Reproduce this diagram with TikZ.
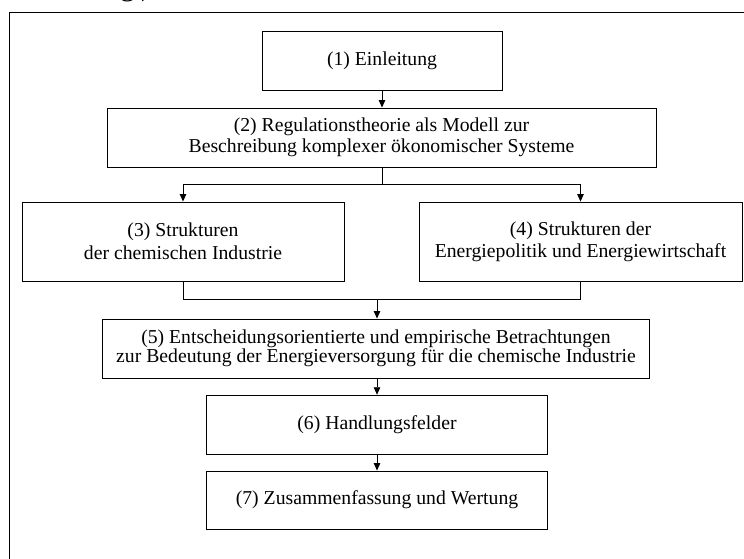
\documentclass[tikz,border=0pt]{standalone}
\usepackage{fontspec}
\setmainfont{Liberation Serif}
\usetikzlibrary{arrows.meta}
\begin{document}
\begin{tikzpicture}[x=1pt,y=1pt,
  box/.style={draw=black, line width=0.9pt, inner sep=0pt, align=center,
    font=\fontsize{19.7}{21}\selectfont},
  link/.style={line width=0.9pt},
  arr/.style={link, -{Triangle[width=6.5pt,length=7.5pt]}},
  frame/.style={line width=1.1pt}]
\useasboundingbox (0,0) rectangle (744,-558);
\clip (0,0) rectangle (744,-558);

% heading fragment above the frame and the frame itself
\node[anchor=base west, inner sep=0pt, font=\fontsize{30}{32}\selectfont] (head) at (120,4.5) {g\kern6pt)};
\draw[frame] (9.5,-560) coordinate (fl) -- (9.5,-12.5) coordinate (ftl) -- (746,-12.5) coordinate (ftr);

% chapter boxes
\node[box, minimum width=240pt, minimum height=59pt] (b1) at (382,-60.5) {(1) Einleitung};
\node[box, minimum width=549pt, minimum height=59pt,
  font=\fontsize{19.7}{21.5}\selectfont] (b2) at (381.5,-137.5)
  {(2) Regulationstheorie als Modell zur\\Beschreibung komplexer ökonomischer Systeme};
\node[box, minimum width=322pt, minimum height=79pt,
  font=\fontsize{19.7}{23}\selectfont] (b3) at (183,-241.5)
  {(3) Strukturen\\der chemischen Industrie};
\node[box, minimum width=323pt, minimum height=79pt,
  font=\fontsize{19.7}{22}\selectfont] (b4) at (580.5,-241.5)
  {(4) Strukturen der\\Energiepolitik und Energiewirtschaft};
\node[box, minimum width=547pt, minimum height=59pt,
  font=\fontsize{19.7}{19.5}\selectfont] (b5) at (376,-348.5)
  {(5) Entscheidungsorientierte und empirische Betrachtungen\\zur Bedeutung der Energieversorgung für die chemische Industrie};
\node[box, minimum width=340.5pt, minimum height=59pt] (b6) at (377,-424.7) {(6) Handlungsfelder};
\node[box, minimum width=340.5pt, minimum height=58pt] (b7) at (377,-500) {(7) Zusammenfassung und Wertung};

% connectors
\draw[arr] (b1.south) -- (b2.north -| b1.south);

\coordinate (split) at (382,-184);
\draw[link] (b2.south -| split) -- (split);
\draw[link] (split -| b3.north) -- (split -| b4.north);
\draw[arr] (split -| b3.north) -- (b3.north);
\draw[arr] (split -| b4.north) -- (b4.north);

\coordinate (merge) at (377,-299);
\draw[link] (b3.south) -- (merge -| b3.south) -- (merge -| b4.south) -- (b4.south);
\draw[arr] (merge) -- (merge |- b5.north);

\draw[arr] (b5.south -| b6.north) -- (b6.north);
\draw[arr] (b6.south) -- (b7.north);
\end{tikzpicture}
\end{document}
